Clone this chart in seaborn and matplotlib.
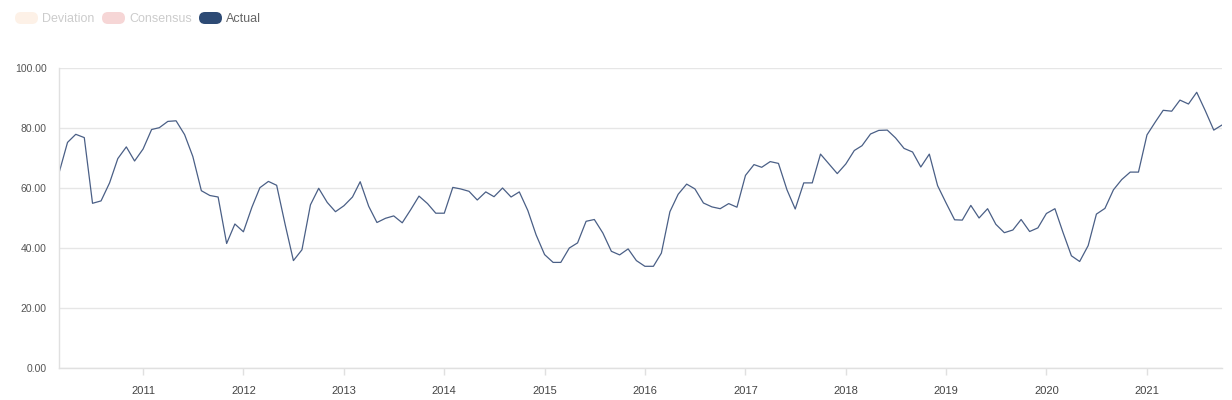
import numpy as np
import pandas as pd
import matplotlib
matplotlib.use("Agg")
import matplotlib.pyplot as plt
import matplotlib.dates as mdates
from matplotlib.patches import FancyBboxPatch
import seaborn as sns

# monthly series, Mar 2010 .. Oct 2021
start_month = "2010-03-01"
actual = [65.0, 75.2, 77.9, 76.8, 54.9, 55.7, 61.7, 69.8, 73.7, 69.0,
          73.0, 79.5, 80.1, 82.2, 82.4, 77.8, 70.5, 59.1, 57.5, 57.0,
          41.5, 48.0, 45.4, 53.6, 60.1, 62.2, 60.9, 47.8, 35.8, 39.4,
          54.4, 59.9, 55.2, 52.1, 54.1, 57.0, 62.1, 53.9, 48.5, 49.9,
          50.7, 48.4, 52.8, 57.3, 54.8, 51.6, 51.6, 60.2, 59.7, 58.9,
          56.0, 58.7, 57.1, 60.0, 57.0, 58.7, 52.5, 44.4, 37.8, 35.2,
          35.2, 40.0, 41.7, 48.9, 49.5, 45.0, 38.9, 37.7, 39.7, 35.8,
          33.9, 33.9, 38.3, 52.1, 57.9, 61.3, 59.7, 55.0, 53.7, 53.1,
          54.8, 53.6, 64.2, 67.8, 66.9, 68.8, 68.2, 59.4, 53.0, 61.7,
          61.7, 71.3, 68.0, 64.8, 68.0, 72.5, 74.1, 78.0, 79.2, 79.3,
          76.7, 73.2, 72.0, 67.0, 71.3, 60.8, 55.0, 49.4, 49.3, 54.2,
          50.0, 53.1, 47.9, 45.1, 46.0, 49.5, 45.5, 46.7, 51.5, 53.1,
          45.3, 37.4, 35.5, 40.8, 51.3, 53.2, 59.4, 62.8, 65.3, 65.3,
          77.7, 82.1, 85.9, 85.6, 89.3, 88.0, 91.9, 85.8, 79.3, 81.0]
months = pd.date_range(start_month, periods=len(actual), freq="MS")

y_ticks = [0, 20, 40, 60, 80, 100]
legend_labels = ["Deviation", "Consensus", "Actual"]
legend_colors = ["#fdf1e7", "#f6d6d6", "#2d4a74"]
legend_text_colors = ["#cccccc", "#cccccc", "#666666"]

df = pd.DataFrame({"date": months, "value": actual})

sns.set_theme(style="white")
plt.rcParams["font.family"] = ["Liberation Sans", "DejaVu Sans"]

W, H = 1232, 400
fig = plt.figure(figsize=(W / 100, H / 100), dpi=100)
ax = fig.add_axes([59 / W, 1 - 368 / H, (1222 - 59) / W, 300 / H])

sns.lineplot(data=df, x="date", y="value", ax=ax, color="#4a5f86", linewidth=0.9)

ax.set_xlim(months[0], months[-1])
ax.set_ylim(0, 100)
ax.set_yticks(y_ticks)
ax.set_yticklabels([f"{t:.2f}" for t in y_ticks], fontsize=7.5, color="#555555")
ax.yaxis.grid(True, color="#e6e6e6", linewidth=1)
ax.xaxis.grid(False)
ax.set_xlabel("")
ax.set_ylabel("")

ax.xaxis.set_major_locator(mdates.YearLocator())
ax.xaxis.set_major_formatter(mdates.DateFormatter("%Y"))
ax.tick_params(axis="x", length=5, width=1, color="#e0e0e0", labelsize=8,
               labelcolor="#444444", pad=8, bottom=True)
ax.tick_params(axis="y", length=0, pad=9)

for side in ["top", "right"]:
    ax.spines[side].set_visible(False)
for side in ["left", "bottom"]:
    ax.spines[side].set_color("#e0e0e0")
    ax.spines[side].set_linewidth(1)

# legend pills at top left, drawn on a pixel-sized overlay axes
lax = fig.add_axes([0, 0, 1, 1], zorder=-1)
lax.set_xlim(0, W)
lax.set_ylim(H, 0)
lax.axis("off")
pill_x = [15, 102, 199]
for x0, lab, col, tcol in zip(pill_x, legend_labels, legend_colors, legend_text_colors):
    lax.add_patch(FancyBboxPatch((x0, 12), 23, 12,
                                 boxstyle="round,pad=0,rounding_size=6",
                                 facecolor=col, edgecolor="none"))
    lax.text(x0 + 27, 18.5, lab, fontsize=9, color=tcol, va="center", ha="left")

fig.savefig("out.png", dpi=100)
